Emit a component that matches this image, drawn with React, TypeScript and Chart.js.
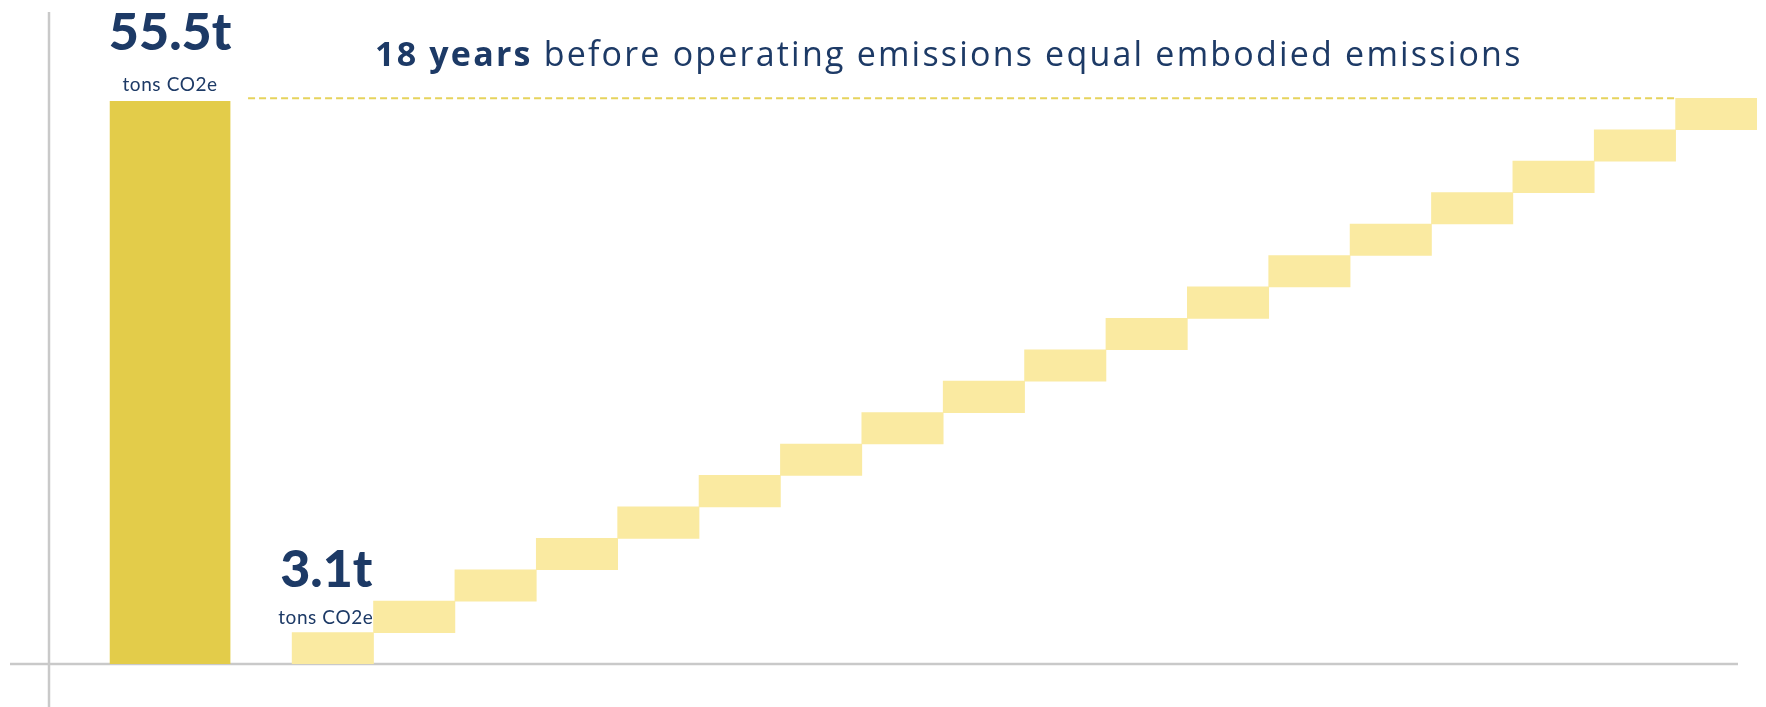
import React, { useEffect, useRef } from "react";
import { Chart, registerables } from "chart.js";

Chart.register(...registerables);

// ---- data ----
const categories = ["", "Embodied", "", "1", "2", "3", "4", "5", "6", "7", "8", "9", "10", "11", "12", "13", "14", "15", "16", "17", "18"];
const embodiedTons = 55.5;
const embodiedIndex = 1;
const firstYearIndex = 3;
const annualOperatingTons = [3.1, 3.1, 3.1, 3.1, 3.1, 3.1, 3.1, 3.1, 3.1, 3.1, 3.1, 3.1, 3.1, 3.1, 3.1, 3.1, 3.1, 3.1];
const bigLabel = "55.5t";
const smallLabel = "3.1t";
const unitLabel = "tons CO2e";
const titleBold = "18 years";
const titleRest = " before operating emissions equal embodied emissions";

const NAVY = "#1d3a66";
const GOLD = "#e3cc4a";
const PALE = "#faeaa1";
const GREY = "#c9c9c9";

export default function App() {
  const ref = useRef<HTMLCanvasElement | null>(null);

  useEffect(() => {
    if (!ref.current) return;

    const embodiedData = categories.map((_, i) => (i === embodiedIndex ? embodiedTons : null));
    let cum = 0;
    const stepData = categories.map((_, i) => {
      if (i < firstYearIndex) return null;
      const v = annualOperatingTons[i - firstYearIndex];
      const r = [cum, cum + v];
      cum += v;
      return r;
    });

    const overlay = {
      id: "overlay",
      beforeDatasetsDraw(chart: any) {
        const ctx = chart.ctx;
        const area = chart.chartArea;
        const y0 = chart.scales.y.getPixelForValue(0);
        ctx.save();
        ctx.strokeStyle = GREY;
        ctx.lineWidth = 2.5;
        ctx.beginPath();
        ctx.moveTo(area.left + 1, 12);
        ctx.lineTo(area.left + 1, chart.height);
        ctx.stroke();
        ctx.beginPath();
        ctx.moveTo(10, y0);
        ctx.lineTo(area.right - 19, y0);
        ctx.stroke();
        ctx.restore();
      },
      afterDatasetsDraw(chart: any) {
        const ctx = chart.ctx as any;
        const bar = chart.getDatasetMeta(0).data[embodiedIndex];
        const steps = chart.getDatasetMeta(1).data;
        const first = steps[firstYearIndex];
        const last = steps[categories.length - 1];
        ctx.save();
        // big bar label
        ctx.fillStyle = NAVY;
        ctx.textAlign = "center";
        ctx.textBaseline = "alphabetic";
        ctx.letterSpacing = "0px";
        ctx.font = "900 52px Lato";
        ctx.fillText(bigLabel, bar.x, bar.y - 51);
        ctx.font = "19px Lato";
        ctx.letterSpacing = "0.6px";
        ctx.fillText(unitLabel, bar.x, bar.y - 10);
        // first step label
        const fLeft = first.x - first.width / 2;
        ctx.textAlign = "left";
        ctx.letterSpacing = "0px";
        ctx.font = "900 52px Lato";
        ctx.fillText(smallLabel, fLeft - 12, first.y - 46);
        ctx.font = "19px Lato";
        ctx.letterSpacing = "0.6px";
        ctx.fillText(unitLabel, fLeft - 14, first.y - 9);
        // dashed line
        const lLeft = last.x - last.width / 2;
        ctx.strokeStyle = "#e6d35c";
        ctx.lineWidth = 2;
        ctx.setLineDash([7, 4]);
        ctx.beginPath();
        ctx.moveTo(bar.x + bar.width / 2 + 18, last.y);
        ctx.lineTo(lLeft, last.y);
        ctx.stroke();
        ctx.setLineDash([]);
        // title
        ctx.fillStyle = NAVY;
        ctx.letterSpacing = "2.2px";
        ctx.font = "bold 34px 'Open Sans'";
        const tx = 375;
        const ty = 66;
        ctx.fillText(titleBold, tx, ty);
        const w = ctx.measureText(titleBold).width;
        ctx.font = "34px 'Open Sans'";
        ctx.fillText(titleRest, tx + w, ty);
        ctx.restore();
      },
    };

    const chart = new Chart(ref.current, {
      type: "bar",
      data: {
        labels: categories,
        datasets: [
          {
            data: embodiedData as any,
            backgroundColor: GOLD,
            barThickness: 120,
            grouped: false,
            borderWidth: 0,
          },
          {
            data: stepData as any,
            backgroundColor: PALE,
            barPercentage: 1,
            categoryPercentage: 1,
            grouped: false,
            borderWidth: 0,
          },
        ],
      },
      options: {
        animation: false,
        responsive: true,
        maintainAspectRatio: false,
        layout: { padding: { left: 48, right: 9, top: 0, bottom: 43 } },
        plugins: { legend: { display: false }, tooltip: { enabled: false }, title: { display: false } },
        scales: {
          x: { display: false, grid: { display: false } },
          y: { display: false, min: 0, max: 65.5, grid: { display: false } },
        },
      },
      plugins: [overlay],
    });
    return () => chart.destroy();
  }, []);

  return (
    <div style={{ position: "fixed", left: 0, top: 0, width: 1766, height: 707, background: "#fff" }}>
      <canvas ref={ref} />
    </div>
  );
}
